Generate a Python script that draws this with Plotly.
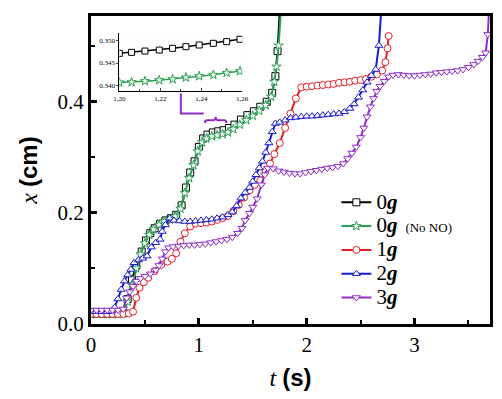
import plotly.graph_objects as go

# ---------------- data ----------------
t_0g = [0.00,0.05,0.10,0.15,0.20,0.25,0.30,0.34,0.38,0.42,0.47,0.51,0.55,0.59,0.64,0.69,0.74,0.79,0.84,0.88,0.92,0.96,1.00,1.04,1.08,1.13,1.18,1.23,1.28,1.33,1.39,1.45,1.51,1.57,1.63,1.68,1.71,1.73,1.75]
x_0g = [0.018,0.018,0.018,0.018,0.018,0.019,0.020,0.045,0.080,0.105,0.130,0.150,0.163,0.172,0.180,0.186,0.190,0.196,0.213,0.245,0.272,0.292,0.318,0.333,0.340,0.344,0.346,0.348,0.352,0.358,0.367,0.375,0.382,0.390,0.399,0.415,0.445,0.490,0.560]

t_0g_nono = [0.00,0.05,0.10,0.15,0.20,0.25,0.30,0.34,0.38,0.42,0.46,0.50,0.54,0.58,0.63,0.68,0.73,0.78,0.83,0.87,0.91,0.95,0.99,1.03,1.07,1.12,1.17,1.22,1.27,1.32,1.38,1.44,1.50,1.56,1.62,1.67,1.70,1.72,1.74,1.76]
x_0g_nono = [0.018,0.018,0.018,0.018,0.018,0.018,0.019,0.040,0.070,0.100,0.125,0.145,0.160,0.170,0.178,0.184,0.188,0.193,0.207,0.235,0.262,0.285,0.310,0.326,0.333,0.337,0.339,0.341,0.344,0.350,0.358,0.366,0.374,0.383,0.393,0.408,0.435,0.462,0.500,0.560]

t_1g = [0.00,0.05,0.10,0.15,0.20,0.25,0.30,0.35,0.39,0.42,0.45,0.49,0.53,0.59,0.65,0.71,0.75,0.79,0.83,0.87,0.92,0.97,1.02,1.07,1.12,1.17,1.22,1.27,1.32,1.37,1.42,1.47,1.52,1.57,1.62,1.66,1.70,1.75,1.80,1.85,1.90,1.95,2.00,2.05,2.10,2.15,2.20,2.25,2.30,2.35,2.40,2.45,2.50,2.55,2.60,2.65,2.70,2.73,2.75,2.76]
x_1g = [0.018,0.018,0.018,0.018,0.018,0.018,0.018,0.019,0.022,0.047,0.065,0.075,0.083,0.095,0.106,0.112,0.117,0.127,0.148,0.163,0.175,0.180,0.181,0.182,0.184,0.187,0.190,0.194,0.203,0.214,0.227,0.240,0.250,0.258,0.275,0.288,0.305,0.325,0.352,0.378,0.405,0.425,0.426,0.427,0.428,0.429,0.430,0.431,0.433,0.434,0.435,0.437,0.438,0.440,0.444,0.448,0.455,0.470,0.495,0.517]

t_2g = [0.00,0.05,0.10,0.15,0.19,0.22,0.25,0.28,0.31,0.34,0.37,0.40,0.44,0.48,0.52,0.56,0.60,0.64,0.66,0.69,0.73,0.77,0.82,0.87,0.92,0.97,1.02,1.07,1.12,1.17,1.22,1.27,1.31,1.35,1.39,1.43,1.47,1.50,1.53,1.56,1.59,1.62,1.65,1.68,1.71,1.75,1.80,1.85,1.90,1.95,2.00,2.05,2.10,2.15,2.20,2.25,2.30,2.35,2.40,2.44,2.48,2.52,2.56,2.60,2.64,2.67,2.69]
x_2g = [0.022,0.022,0.022,0.022,0.023,0.030,0.045,0.062,0.077,0.088,0.098,0.110,0.115,0.118,0.122,0.138,0.146,0.152,0.166,0.178,0.190,0.186,0.185,0.184,0.184,0.185,0.186,0.187,0.188,0.190,0.192,0.196,0.201,0.212,0.226,0.236,0.245,0.256,0.268,0.280,0.292,0.308,0.325,0.345,0.360,0.362,0.366,0.370,0.371,0.372,0.373,0.373,0.374,0.375,0.376,0.377,0.378,0.381,0.387,0.395,0.407,0.420,0.434,0.446,0.457,0.500,0.560]

t_3g = [0.00,0.05,0.10,0.15,0.20,0.25,0.30,0.33,0.36,0.39,0.42,0.46,0.50,0.55,0.60,0.63,0.66,0.69,0.72,0.76,0.81,0.86,0.91,0.96,1.01,1.06,1.11,1.16,1.21,1.26,1.31,1.36,1.40,1.43,1.47,1.50,1.54,1.58,1.61,1.64,1.69,1.74,1.79,1.84,1.89,1.94,1.99,2.04,2.09,2.14,2.19,2.24,2.29,2.34,2.38,2.42,2.46,2.50,2.53,2.56,2.59,2.62,2.65,2.68,2.72,2.76,2.80,2.85,2.90,2.95,3.00,3.05,3.10,3.15,3.20,3.25,3.30,3.35,3.40,3.45,3.50,3.55,3.59,3.63,3.66,3.68,3.69]
x_3g = [0.025,0.025,0.025,0.025,0.025,0.025,0.027,0.047,0.058,0.068,0.077,0.082,0.086,0.090,0.097,0.105,0.117,0.130,0.137,0.139,0.140,0.141,0.142,0.142,0.143,0.144,0.146,0.148,0.150,0.152,0.156,0.163,0.172,0.186,0.199,0.210,0.225,0.250,0.268,0.280,0.279,0.275,0.273,0.271,0.270,0.270,0.272,0.274,0.276,0.278,0.280,0.281,0.283,0.288,0.297,0.307,0.318,0.335,0.352,0.372,0.390,0.405,0.418,0.427,0.436,0.444,0.447,0.448,0.447,0.446,0.446,0.447,0.448,0.449,0.451,0.452,0.453,0.454,0.455,0.457,0.461,0.466,0.472,0.479,0.487,0.520,0.560]

# inset (zoom of 1.20 - 1.26 s)
t_inset = [1.200,1.206,1.2125,1.2195,1.226,1.2325,1.239,1.2459,1.2524,1.2589]
x_inset_0g = [0.34716,0.34739,0.34768,0.34790,0.34829,0.34865,0.34903,0.34941,0.34978,0.35031]
x_inset_nono = [0.34064,0.34071,0.34093,0.34116,0.34138,0.34176,0.34206,0.34235,0.34280,0.34318]

x_ticks = [0, 1, 2, 3]
y_ticks = [0.0, 0.2, 0.4]
inset_x_ticks = [1.20, 1.22, 1.24, 1.26]
inset_x_labels = ["1,20", "1,22", "1,24", "1,26"]
inset_y_ticks = [0.340, 0.345, 0.350]
inset_y_labels = ["0.340", "0.345", "0.350"]

# ---------------- styles ----------------
SERIF = "Liberation Serif"
BLACK = "#000000"
GREEN = "#2aa052"
RED = "#e41e26"
BLUE = "#1a1ad0"
PURPLE = "#8e2dc8"

BIG = "<span style='font-size:21px'>{}</span>"
series = [
    (BIG.format("0<b><i>g</i></b>"), t_0g, x_0g, BLACK, "square"),
    (BIG.format("0<b><i>g</i></b>") + "  <span style='font-size:13px'>(No NO)</span>", t_0g_nono, x_0g_nono, GREEN, "star"),
    (BIG.format("1<b><i>g</i></b>"), t_1g, x_1g, RED, "circle"),
    (BIG.format("2<b><i>g</i></b>"), t_2g, x_2g, BLUE, "triangle-up"),
    (BIG.format("3<b><i>g</i></b>"), t_3g, x_3g, PURPLE, "triangle-down"),
]

fig = go.Figure()
for name, tt, xx, col, sym in series:
    fig.add_trace(go.Scatter(
        x=tt, y=xx, name=name, mode="lines+markers",
        line=dict(color=col, width=2),
        marker=dict(symbol=sym, size=7, color="white", line=dict(color=col, width=1)),
        xaxis="x", yaxis="y",
    ))

fig.add_trace(go.Scatter(
    x=t_inset, y=x_inset_0g, mode="lines+markers", showlegend=False,
    line=dict(color=BLACK, width=1.5),
    marker=dict(symbol="square", size=6, color="white", line=dict(color=BLACK, width=1)),
    xaxis="x2", yaxis="y2"))
fig.add_trace(go.Scatter(
    x=t_inset, y=x_inset_nono, mode="lines+markers", showlegend=False,
    line=dict(color=GREEN, width=1.5),
    marker=dict(symbol="star", size=7, color="#e8f5e8", line=dict(color=GREEN, width=1)),
    xaxis="x2", yaxis="y2"))

# bracket pointing from inset to the zoomed section
bracket_path = "M 0.833,0.414 L 0.833,0.378 L 1.046,0.378"
brace_path = ("M 1.056,0.361 Q 1.056,0.366 1.076,0.366 L 1.136,0.366 "
              "Q 1.156,0.366 1.156,0.372 Q 1.156,0.366 1.176,0.366 "
              "L 1.236,0.366 Q 1.256,0.366 1.256,0.361")

fig.update_layout(
    width=502, height=399,
    margin=dict(l=91, r=12, t=16, b=75),
    paper_bgcolor="white", plot_bgcolor="white",
    font=dict(family=SERIF, color="black", size=20),
    showlegend=True,
    legend=dict(x=0.615, y=0.45, xanchor="left", yanchor="top",
                bgcolor="rgba(0,0,0,0)", font=dict(family=SERIF, size=16),
                tracegroupgap=0, itemwidth=30),
    xaxis=dict(domain=[0, 1], range=[0, 3.7], tickvals=x_ticks, automargin=False,
               showline=True, mirror=True, linecolor="black", linewidth=3,
               ticks="inside", ticklen=6, tickwidth=2.5, tickcolor="black",
               minor=dict(dtick=0.5, ticks="inside", ticklen=4, tickwidth=2, tickcolor="black"),
               showgrid=False, zeroline=False,
               tickfont=dict(family=SERIF, size=21),
               title=dict(text="<i>t</i> <b><span style='font-family:Liberation Sans'>(s)</span></b>",
                          font=dict(family=SERIF, size=24), standoff=13)),
    yaxis=dict(domain=[0, 1], range=[0, 0.553], tickvals=y_ticks, tickformat=".1f", automargin=False,
               showline=True, mirror=True, linecolor="black", linewidth=3,
               ticks="inside", ticklen=6, tickwidth=2.5, tickcolor="black",
               minor=dict(dtick=0.1, ticks="inside", ticklen=4, tickwidth=2, tickcolor="black"),
               showgrid=False, zeroline=False,
               tickfont=dict(family=SERIF, size=21),
               title=dict(text="<i>x</i> <b><span style='font-family:Liberation Sans'>(cm)</span></b>",
                          font=dict(family=SERIF, size=24), standoff=14)),
    xaxis2=dict(domain=[0.071, 0.379], anchor="y2", range=[1.20, 1.26], automargin=False,
                tickvals=inset_x_ticks, ticktext=inset_x_labels,
                showline=True, linecolor="black", linewidth=1,
                ticks="inside", ticklen=3, tickwidth=1,
                minor=dict(dtick=0.01, ticks="inside", ticklen=2),
                showgrid=False, zeroline=False,
                tickfont=dict(family=SERIF, size=7)),
    yaxis2=dict(domain=[0.756, 0.946], anchor="x2", range=[0.3387, 0.3518], automargin=False,
                tickvals=inset_y_ticks, ticktext=inset_y_labels,
                showline=True, linecolor="black", linewidth=1,
                ticks="outside", ticklen=2, tickwidth=1,
                showgrid=False, zeroline=False,
                tickfont=dict(family=SERIF, size=7)),
    shapes=[
        dict(type="rect", xref="x2 domain", yref="y2 domain", x0=0, x1=1, y0=0, y1=1,
             fillcolor="#e4e4e4", line=dict(width=0), layer="below"),
        dict(type="path", xref="x", yref="y", path=bracket_path,
             line=dict(color=PURPLE, width=2)),
        dict(type="path", xref="x", yref="y", path=brace_path,
             line=dict(color=PURPLE, width=2)),
    ],
)

fig.write_html("out.html", config={"displayModeBar": False},
               post_script="document.body.style.margin='0';document.body.style.overflow='hidden';")
